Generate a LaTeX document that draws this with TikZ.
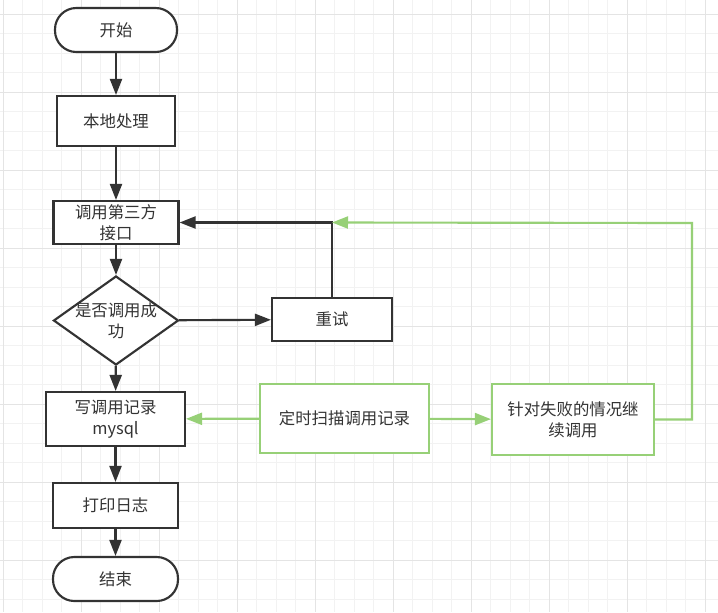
\documentclass[tikz,border=0pt]{standalone}
\usepackage{fontspec}
\setmainfont{Noto Sans CJK SC}
\usetikzlibrary{arrows.meta,shapes.geometric}
\definecolor{LineGray}{RGB}{51,51,51}
\definecolor{FlowGreen}{RGB}{151,208,119}
\definecolor{GridMinor}{RGB}{242,242,242}
\definecolor{GridMajor}{RGB}{228,228,228}

\begin{document}
\begin{tikzpicture}[x=.75pt,y=-.75pt,font=\fontsize{12.3}{15.75}\selectfont,
  box/.style={draw=LineGray,text=LineGray,line width=1.6pt,fill=white,align=center,inner sep=0pt},
  term/.style={box,rounded corners=16pt},
  gbox/.style={box,draw=FlowGreen},
  flow/.style={LineGray,line width=1.6pt,-{Triangle[length=12pt,width=9pt]}},
  gflow/.style={flow,FlowGreen}]
\useasboundingbox (0,0) rectangle (718,612);
\fill[white] (0,0) rectangle (718,612);
% grid
\foreach \k in {0,...,36}{\draw[GridMinor,line width=.75pt] (3+19.5*\k,0)--(3+19.5*\k,612);}
\foreach \k in {0,...,30}{\draw[GridMinor,line width=.75pt] (0,14.3+19.5*\k)--(718,14.3+19.5*\k);}
\foreach \k in {0,...,9}{\draw[GridMajor,line width=.75pt] (3+78*\k,0)--(3+78*\k,612);}
\foreach \k in {0,...,7}{\draw[GridMajor,line width=.75pt] (0,14.3+78*\k)--(718,14.3+78*\k);}
% main column
\node[term,minimum width=91.5pt,minimum height=33pt] (start) at (116,30) {开始};
\node[box,minimum width=88.5pt,minimum height=37.5pt] (local) at (116,121) {本地处理};
\node[box,minimum width=93.75pt,minimum height=32.25pt] (call) at (116,222.5) {调用第三方\\接口};
\node[box,diamond,minimum width=93.75pt,minimum height=66.75pt] (chk) at (116,320.5) {};
\node[align=center,text=LineGray,inner sep=0pt] (chktxt) at (chk) {是否调用成\\功};
\node[box,minimum width=90pt,minimum height=32.25pt] (retry) at (332,319.5) {重试};
\node[box,minimum width=104.25pt,minimum height=40.5pt] (rec) at (115.5,419) {写调用记录\\mysql};
\node[box,minimum width=93.75pt,minimum height=33.75pt] (log) at (115.5,505.5) {打印日志};
\node[term,minimum width=93.75pt,minimum height=33pt] (end) at (115.5,579) {结束};
% green side
\node[gbox,minimum width=126.75pt,minimum height=51.75pt] (scan) at (344.5,418.5) {定时扫描调用记录};
\node[gbox,minimum width=121.5pt,minimum height=53.25pt] (redo) at (573,419.5) {针对失败的情况继\\续调用};
\coordinate (join) at (retry.north |- call.east);
\coordinate (gright) at (692,223);
% connectors
\draw[flow] (start)--(local);\draw[flow] (local)--(call);\draw[flow] (call)--(chk);
\draw[flow] (chk)--(retry);\draw[flow] (chk)--(rec);\draw[flow] (rec)--(log);\draw[flow] (log)--(end);
\draw[flow] (retry.north)--(join)--(call.east);
\draw[gflow] (scan)--(rec);\draw[gflow] (scan)--(redo);
\draw[gflow] (redo.east)-|(gright)--(join);
\end{tikzpicture}
\end{document}
